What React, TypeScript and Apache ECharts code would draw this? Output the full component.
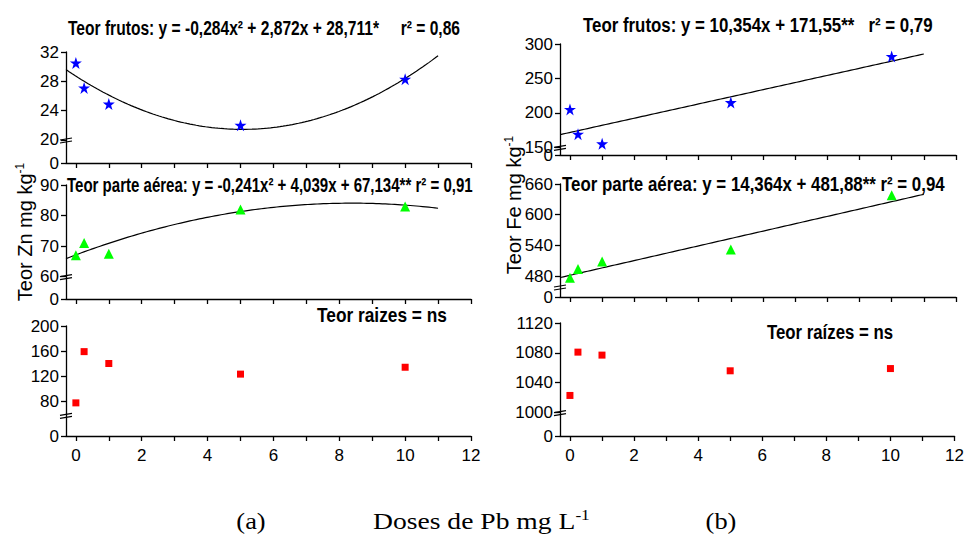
import React, { useEffect, useRef } from "react";
import * as echarts from "echarts";

// ---------- data ----------
const doses = [0, 0.25, 1, 5, 10];

const znFrutos = [30.5, 27.1, 24.9, 22.0, 28.3];
const znParteAerea = [67, 71, 67.5, 82, 83];
const znRaizes = [77, 159, 140, 123, 134];

const feFrutos = [205, 169, 155, 215, 282];
const feParteAerea = [477, 494, 509, 532, 638];
const feRaizes = [1023, 1081, 1077, 1056, 1059];

// regression coefficients [x^2, x, constant] of the drawn fit curves
const znFrutosFit = [0.284, -2.872, 28.711];
const znParteAereaFit = [-0.241, 4.039, 67.134];
const feFrutosFit = [0, 10.354, 171.55];
const feParteAereaFit = [0, 14.364, 481.88];
const fitFrom = -0.3;
const fitTo = 11;

// tick labels
const xTickValues = [0, 1, 2, 3, 4, 5, 6, 7, 8, 9, 10, 11, 12];
const xLabelValues = [0, 2, 4, 6, 8, 10, 12];
const znFrutosTicks = [20, 24, 28, 32];
const znParteAereaTicks = [60, 70, 80, 90];
const znRaizesTicks = [80, 120, 160, 200];
const feFrutosTicks = [150, 200, 250, 300];
const feParteAereaTicks = [480, 540, 600, 660];
const feRaizesTicks = [1000, 1040, 1080, 1120];

const titles = [
  { text: "Teor frutos: y = -0,284x² + 2,872x + 28,711*     r² = 0,86", left: 68, right: 460, y: 28 },
  { text: "Teor frutos: y = 10,354x + 171,55**   r² = 0,79", left: 583, right: 933, y: 25 },
  { text: "Teor parte aérea: y = -0,241x² + 4,039x + 67,134** r² = 0,91", left: 67, right: 473, y: 185 },
  { text: "Teor parte aérea: y = 14,364x + 481,88** r² = 0,94", left: 562, right: 945, y: 184 },
  { text: "Teor raizes = ns", left: 317, right: 447, y: 315 },
  { text: "Teor raízes = ns", left: 767, right: 893, y: 332 },
];

const STAR =
  "path://M12,0 L14.9,8.6 L24,8.6 L16.6,14 L19.4,22.8 L12,17.4 L4.6,22.8 L7.4,14 L0,8.6 L9.1,8.6 Z";

const FONT = '"Liberation Sans", Arial, sans-serif';

type Panel = {
  grid: { left: number; top: number; width: number; height: number };
  xMin: number;
  yStart: number;
  ticks: number[];
  breakAt: number;
  values: number[];
  fit: number[] | null;
  symbol: string;
  size: number;
  color: string;
  showX: boolean;
};

const panels: Panel[] = [
  { grid: { left: 66, top: 52, width: 405, height: 111 }, xMin: -0.3, yStart: 16.86, ticks: znFrutosTicks, breakAt: 20, values: znFrutos, fit: znFrutosFit, symbol: STAR, size: 12, color: "#0000ff", showX: false },
  { grid: { left: 66, top: 185, width: 405, height: 114 }, xMin: -0.3, yStart: 52.7, ticks: znParteAereaTicks, breakAt: 60, values: znParteAerea, fit: znParteAereaFit, symbol: "triangle", size: 10, color: "#00ff00", showX: false },
  { grid: { left: 66, top: 326, width: 405, height: 110 }, xMin: -0.3, yStart: 24, ticks: znRaizesTicks, breakAt: 57, values: znRaizes, fit: null, symbol: "rect", size: 7, color: "#ff0000", showX: true },
  { grid: { left: 560, top: 44, width: 396, height: 111 }, xMin: -0.31, yStart: 138.8, ticks: feFrutosTicks, breakAt: 150, values: feFrutos, fit: feFrutosFit, symbol: STAR, size: 12, color: "#0000ff", showX: false },
  { grid: { left: 560, top: 184, width: 396, height: 113 }, xMin: -0.31, yStart: 439.5, ticks: feParteAereaTicks, breakAt: 459, values: feParteAerea, fit: feParteAereaFit, symbol: "triangle", size: 10, color: "#00ff00", showX: false },
  { grid: { left: 560, top: 323, width: 396, height: 113 }, xMin: -0.31, yStart: 968.7, ticks: feRaizesTicks, breakAt: 1000, values: feRaizes, fit: null, symbol: "rect", size: 7, color: "#ff0000", showX: true },
];

function fitCurve(c: number[]) {
  const pts: number[][] = [];
  const n = 120;
  for (let k = 0; k <= n; k++) {
    const x = fitFrom + ((fitTo - fitFrom) * k) / n;
    pts.push([x, c[0] * x * x + c[1] * x + c[2]]);
  }
  return pts;
}

function measure(text: string, font: string) {
  const ctx = document.createElement("canvas").getContext("2d")!;
  ctx.font = font;
  return ctx.measureText(text).width;
}

export default function App() {
  const ref = useRef<HTMLDivElement>(null);

  useEffect(() => {
    const el = ref.current!;
    const chart = echarts.init(el, null, { renderer: "svg" });
    const axisLine = { show: true, onZero: false, lineStyle: { color: "#000", width: 1.3 } };
    const labelBase = {
      color: "#000",
      fontSize: 17,
      fontFamily: FONT,
      margin: 7,
      hideOverlap: false,
      showMinLabel: true,
      showMaxLabel: true,
    };

    const series: any[] = [];
    panels.forEach((p, i) => {
      if (p.fit) {
        series.push({
          type: "line",
          xAxisIndex: i,
          yAxisIndex: i,
          data: fitCurve(p.fit),
          showSymbol: false,
          symbol: "none",
          lineStyle: { color: "#000", width: 1.2 },
          z: 2,
        });
      }
      series.push({
        type: "scatter",
        xAxisIndex: i,
        yAxisIndex: i,
        data: doses.map((x, k) => [x, p.values[k]]),
        symbol: p.symbol,
        symbolSize: p.size,
        itemStyle: { color: p.color, opacity: 1 },
        z: 3,
      });
    });

    const mainY = panels.map((p, i) => ({
      type: "value",
      gridIndex: i,
      min: p.yStart,
      max: p.ticks[p.ticks.length - 1],
      axisLine,
      axisTick: { show: true, length: 5, customValues: [p.yStart, ...p.ticks], lineStyle: { color: "#000", width: 1.3 } },
      axisLabel: { ...labelBase, customValues: p.ticks, formatter: (v: number) => String(v) },
      splitLine: { show: false },
    }));
    // second axis per panel: only the "0" label at the foot of the broken axis
    const zeroY = panels.map((p, i) => ({
      type: "value",
      gridIndex: i,
      position: "left",
      min: p.yStart,
      max: p.ticks[p.ticks.length - 1],
      axisLine: { show: false, onZero: false },
      axisTick: { show: false },
      axisLabel: { ...labelBase, customValues: [p.yStart], formatter: () => "0" },
      splitLine: { show: false },
    }));

    chart.setOption({
      animation: false,
      backgroundColor: "#fff",
      grid: panels.map((p) => ({ ...p.grid })),
      xAxis: panels.map((p, i) => ({
        type: "value",
        gridIndex: i,
        min: p.xMin,
        max: 12,
        axisLine,
        axisTick: { show: true, length: 5, customValues: xTickValues, lineStyle: { color: "#000", width: 1.3 } },
        axisLabel: {
          show: p.showX,
          customValues: xLabelValues,
          color: "#000",
          fontSize: 17,
          fontFamily: FONT,
          margin: 11,
          formatter: (v: number) => String(v),
        },
        splitLine: { show: false },
      })),
      yAxis: [...mainY, ...zeroY],
      series,
    });

    const graphics: any[] = [];
    const titleFont = `bold 21px ${FONT}`;
    titles.forEach((t) => {
      const w = measure(t.text, titleFont);
      graphics.push({
        type: "text",
        x: t.left,
        y: t.y,
        scaleX: (t.right - t.left) / w,
        style: { text: t.text, font: titleFont, fill: "#000", align: "left", verticalAlign: "middle" },
      });
    });

    panels.forEach((p, i) => {
      const [px, py] = chart.convertToPixel({ gridIndex: i } as any, [p.xMin, p.breakAt]) as number[];
      graphics.push({
        type: "line",
        shape: { x1: px - 6, y1: py, x2: px + 6, y2: py - 2 },
        style: { stroke: "#000", lineWidth: 1.2 },
      });
      graphics.push({
        type: "line",
        shape: { x1: px - 6, y1: py + 3, x2: px + 6, y2: py + 1 },
        style: { stroke: "#000", lineWidth: 1.2 },
      });
    });

    const yNameRich = {
      n: { fontSize: 20, fontFamily: FONT, fill: "#000", lineHeight: 22 },
      s: { fontSize: 12, fontFamily: FONT, fill: "#000", verticalAlign: "top", lineHeight: 12 },
    };
    graphics.push({
      type: "text",
      x: 25,
      y: 232,
      rotation: Math.PI / 2,
      style: { text: "{n|Teor Zn mg kg}{s|-1}", rich: yNameRich, align: "center", verticalAlign: "middle" },
    });
    graphics.push({
      type: "text",
      x: 514,
      y: 205,
      rotation: Math.PI / 2,
      style: { text: "{n|Teor Fe mg kg}{s|-1}", rich: yNameRich, align: "center", verticalAlign: "middle" },
    });

    const serif = '"Liberation Serif", "Times New Roman", serif';
    const bottomRich = {
      n: { fontSize: 24, fontFamily: serif, fill: "#000", lineHeight: 28 },
      s: { fontSize: 15, fontFamily: serif, fill: "#000", verticalAlign: "top", lineHeight: 15 },
    };
    graphics.push({
      type: "text",
      x: 251,
      y: 521,
      scaleX: 1.1,
      style: { text: "(a)", font: `24px ${serif}`, fill: "#000", align: "center", verticalAlign: "middle" },
    });
    graphics.push({
      type: "text",
      x: 373,
      y: 521,
      scaleX: 1.15,
      style: { text: "{n|Doses de Pb mg L}{s|-1}", rich: bottomRich, align: "left", verticalAlign: "middle" },
    });
    graphics.push({
      type: "text",
      x: 721,
      y: 521,
      scaleX: 1.1,
      style: { text: "(b)", font: `24px ${serif}`, fill: "#000", align: "center", verticalAlign: "middle" },
    });

    chart.setOption({ graphic: graphics });

    return () => chart.dispose();
  }, []);

  return (
    <div
      ref={ref}
      style={{ position: "absolute", left: 0, top: 0, width: 967, height: 535, background: "#fff" }}
    />
  );
}
